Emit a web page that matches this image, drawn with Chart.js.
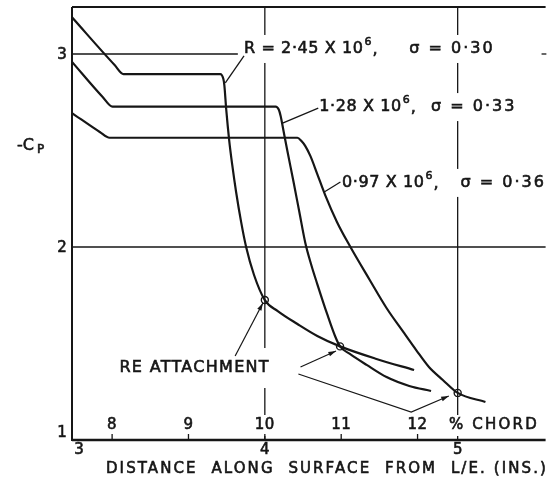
<!DOCTYPE html>
<html>
<head>
<meta charset="utf-8">
<script src="https://cdn.jsdelivr.net/npm/chart.js@4.4.1/dist/chart.umd.min.js"></script>
<style>
  html, body { margin: 0; padding: 0; background: #fff; }
  #wrap { width: 551px; height: 483px; }
</style>
</head>
<body>
<div id="wrap"><canvas id="cpChart" width="551" height="483"></canvas></div>
<script>
// Distance along surface from L/E (ins.) and -Cp, one pair per curve
const distA = [3.0, 3.221, 3.267, 3.769, 3.785, 3.790, 3.800, 3.815, 3.831, 3.851, 3.877, 3.903, 3.944, 4.0, 4.067, 4.169, 4.272, 4.390, 4.579, 4.774];
const cpA   = [3.19, 2.943, 2.896, 2.896, 2.870, 2.839, 2.710, 2.554, 2.425, 2.285, 2.130, 2.000, 1.855, 1.725, 1.668, 1.601, 1.539, 1.485, 1.420, 1.363];

const distB = [3.0, 3.159, 3.21, 4.056, 4.072, 4.082, 4.097, 4.118, 4.149, 4.179, 4.210, 4.241, 4.272, 4.323, 4.364, 4.390, 4.441, 4.528, 4.631, 4.749, 4.862];
const cpB   = [2.959, 2.777, 2.727, 2.727, 2.712, 2.679, 2.601, 2.492, 2.337, 2.181, 2.021, 1.907, 1.808, 1.653, 1.539, 1.485, 1.446, 1.389, 1.326, 1.280, 1.254];

const distC = [3.0, 3.144, 3.195, 4.169, 4.190, 4.210, 4.236, 4.272, 4.313, 4.374, 4.441, 4.544, 4.631, 4.718, 4.785, 4.851, 4.923, 5.0, 5.144];
const cpC   = [2.694, 2.596, 2.566, 2.566, 2.549, 2.523, 2.472, 2.378, 2.269, 2.130, 2.005, 1.829, 1.684, 1.560, 1.466, 1.378, 1.311, 1.244, 1.197];

// re-attachment points
const reattachDist = [4.0, 4.39, 5.0];
const reattachCp   = [1.725, 1.485, 1.244];

const xTicks = [3, 4, 5];
const yTicks = [1, 2, 3];
const chordTicks  = [8, 9, 10, 11, 12, 13];
const chordLabels = ['8', '9', '10', '11', '12', '% CHORD'];
const inchesPerChordPct = 0.396; // 10% chord sits at 4 in.

// curve labels (data coords)
const curveLabels = [
  { text: 'R = 2·45 X 10', sup: '6', sigma: 'σ = 0·30', x: 3.892, sx: 4.749, y: 3.026, lead: [[3.892, 2.990], [3.795, 2.850]] },
  { text: '1·28 X 10',     sup: '6', sigma: 'σ = 0·33', x: 4.282, sx: 4.862, y: 2.725, lead: [[4.277, 2.720], [4.092, 2.642]] },
  { text: '0·97 X 10',     sup: '6', sigma: 'σ = 0·36', x: 4.400, sx: 5.015, y: 2.332, lead: [[4.392, 2.337], [4.308, 2.285]] }
];
const reattachText = { text: 'RE ATTACHMENT', x: 3.246, y: 1.373 };
const reattachArrows = [
  [[3.846, 1.435], [3.99, 1.710]],
  [[4.185, 1.378], [4.369, 1.461]],
  [[4.174, 1.342], [4.759, 1.145], [4.954, 1.228]]
];
const grid3Segments = [[3, 3.86], [5.435, 5.46]];

const ink = '#161616';
const FONT = '"DejaVu Sans", sans-serif';

function pts(xs, ys) { return xs.map((x, i) => ({ x: x, y: ys[i] })); }

function seg(ctx, x1, y1, x2, y2) {
    ctx.beginPath();
    ctx.moveTo(x1, y1);
    ctx.lineTo(x2, y2);
    ctx.stroke();
}

function setFont(ctx, size, ls) {
    ctx.font = size + 'px ' + FONT;
    ctx.letterSpacing = (ls || 0) + 'px';
}

// hand lettering is a little heavier than the plain face
function ink_text(ctx, s, x, y) {
    ctx.fillText(s, x, y);
    ctx.lineWidth = 0.6;
    ctx.strokeText(s, x, y);
}

function mask(ctx, x, y, w, h) {
    ctx.fillStyle = '#fff';
    ctx.fillRect(x, y, w, h);
    ctx.fillStyle = ink;
}

const sketchPlugin = {
    id: 'sketch',
    beforeDatasetsDraw(chart) {
        const ctx = chart.ctx;
        const a = chart.chartArea;
        const X = v => chart.scales.x.getPixelForValue(v);
        const Y = v => chart.scales.y.getPixelForValue(v);
        ctx.save();
        ctx.strokeStyle = ink;
        ctx.fillStyle = ink;
        ctx.lineCap = 'butt';

        // grid lines
        ctx.lineWidth = 1.3;
        seg(ctx, a.left, Y(2), a.right, Y(2));
        grid3Segments.forEach(s => seg(ctx, X(s[0]), Y(3), X(s[1]), Y(3)));
        [4, 5].forEach(v => seg(ctx, X(v), a.top, X(v), a.bottom));

        // frame
        ctx.lineWidth = 2;
        seg(ctx, a.left, a.top, a.right, a.top);
        seg(ctx, a.left, a.top, a.left, a.bottom + 1);
        ctx.lineWidth = 2.4;
        seg(ctx, a.left, a.bottom, a.right, a.bottom);

        ctx.textBaseline = 'middle';
        ctx.textAlign = 'left';

        // curve labels
        curveLabels.forEach(l => {
            const x0 = X(l.x), y0 = Y(l.y);
            setFont(ctx, 16, 0.6);
            const w1 = ctx.measureText(l.text).width;
            setFont(ctx, 11, 0);
            const ws = ctx.measureText(l.sup).width;
            setFont(ctx, 16, 2);
            const ws2 = ctx.measureText(l.sigma).width;
            mask(ctx, x0 - 4, y0 - 14, X(l.sx) + ws2 + 4 - (x0 - 4), 28);
            ctx.fillText && ink_text(ctx, l.sigma, X(l.sx), y0);
            setFont(ctx, 16, 0.6);
            ink_text(ctx, l.text, x0, y0);
            ink_text(ctx, ',', x0 + w1 + ws + 2, y0 + 1);
            setFont(ctx, 11, 0);
            ink_text(ctx, l.sup, x0 + w1 + 1, y0 - 7);
            ctx.lineWidth = 1.3;
            seg(ctx, X(l.lead[0][0]), Y(l.lead[0][1]), X(l.lead[1][0]), Y(l.lead[1][1]));
        });

        // re-attachment label
        setFont(ctx, 16, 1.3);
        const rw = ctx.measureText(reattachText.text).width;
        mask(ctx, X(reattachText.x) - 4, Y(reattachText.y) - 20, rw + 8, 40);
        ink_text(ctx, reattachText.text, X(reattachText.x), Y(reattachText.y));

        // % chord scale inside the plot
        chordTicks.forEach((c, i) => {
            const xp = X(4 + (c - 10) * inchesPerChordPct);
            const lab = chordLabels[i];
            setFont(ctx, 15, lab.length > 2 ? 2.2 : 0.5);
            const w = ctx.measureText(lab).width;
            const yl = a.bottom - 15;
            mask(ctx, xp - w / 2 - 3, yl - 10, w + 6, 21);
            ink_text(ctx, lab, xp - w / 2, yl);
            ctx.lineWidth = 1.3;
            if (i < chordTicks.length - 1) seg(ctx, xp, a.bottom - 6, xp, a.bottom);
        });

        // arrows
        ctx.lineWidth = 1.2;
        reattachArrows.forEach(p => {
            ctx.beginPath();
            p.forEach((q, i) => {
                if (i === 0) ctx.moveTo(X(q[0]), Y(q[1]));
                else ctx.lineTo(X(q[0]), Y(q[1]));
            });
            ctx.stroke();
            const n = p.length;
            const x2 = X(p[n - 1][0]), y2 = Y(p[n - 1][1]);
            const x1 = X(p[n - 2][0]), y1 = Y(p[n - 2][1]);
            const ang = Math.atan2(y2 - y1, x2 - x1);
            ctx.beginPath();
            ctx.moveTo(x2, y2);
            ctx.lineTo(x2 - 8 * Math.cos(ang - 0.3), y2 - 8 * Math.sin(ang - 0.3));
            ctx.lineTo(x2 - 8 * Math.cos(ang + 0.3), y2 - 8 * Math.sin(ang + 0.3));
            ctx.closePath();
            ctx.fill();
        });

        // y tick labels
        setFont(ctx, 15, 0);
        ctx.textAlign = 'center';
        yTicks.forEach(v => {
            const yp = Y(v) + (v === yTicks[0] ? -7 : 1);
            ink_text(ctx, String(v), a.left - 10, yp);
        });

        // x tick labels
        xTicks.forEach((v, i) => {
            ink_text(ctx, String(v), X(v) + (i === 0 ? 7 : 0), a.bottom + 10);
        });

        // axis titles
        setFont(ctx, 16, 0);
        ctx.textAlign = 'left';
        ink_text(ctx, '-C', 17, 146);
        setFont(ctx, 12, 0);
        ink_text(ctx, 'P', 37, 150);

        setFont(ctx, 15, 2.1);
        ctx.textAlign = 'center';
        ink_text(ctx, 'DISTANCE  ALONG  SURFACE  FROM  L/E. (INS.)', 327, a.bottom + 29);

        ctx.restore();
    }
};

const lineStyle = {
    borderColor: ink,
    borderWidth: 2.2,
    pointRadius: 0,
    cubicInterpolationMode: 'monotone',
    fill: false,
    order: 2
};

new Chart(document.getElementById('cpChart'), {
    type: 'line',
    data: {
        datasets: [
            Object.assign({ label: 'R = 2.45e6', data: pts(distA, cpA) }, lineStyle),
            Object.assign({ label: 'R = 1.28e6', data: pts(distB, cpB) }, lineStyle),
            Object.assign({ label: 'R = 0.97e6', data: pts(distC, cpC) }, lineStyle),
            {
                type: 'scatter',
                label: 'Re attachment',
                data: pts(reattachDist, reattachCp),
                pointRadius: 3.5,
                pointBorderWidth: 1.4,
                pointBackgroundColor: 'rgba(0,0,0,0)',
                pointBorderColor: ink,
                showLine: false,
                order: 1
            }
        ]
    },
    options: {
        responsive: false,
        animation: false,
        devicePixelRatio: 1,
        layout: { padding: { left: 72, top: 7, right: 0, bottom: 43 } },
        plugins: { legend: { display: false }, tooltip: { enabled: false } },
        scales: {
            x: { type: 'linear', min: 3, max: 5.456, display: false },
            y: { type: 'linear', min: 1, max: 3.2435, display: false }
        }
    },
    plugins: [sketchPlugin]
});
</script>
</body>
</html>
